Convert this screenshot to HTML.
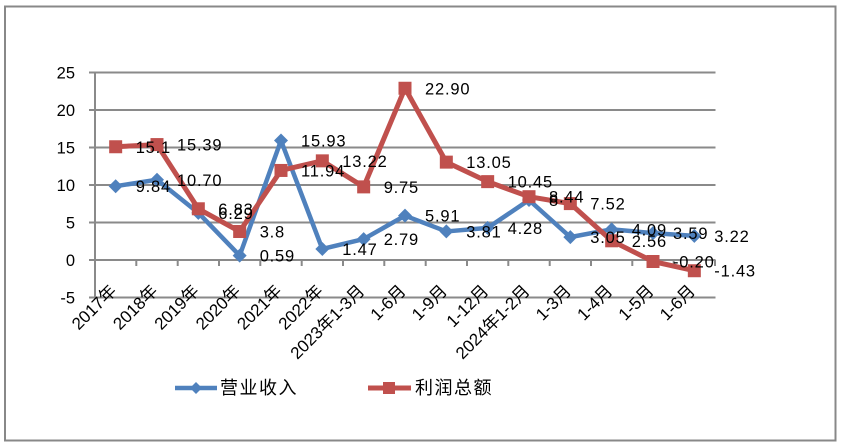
<!DOCTYPE html>
<html><head><meta charset="utf-8">
<style>
html,body{margin:0;padding:0;background:#fff;}
svg{display:block;}
text{font-family:"Liberation Sans","Noto Sans CJK SC",sans-serif;fill:#000;}
.dl{font-size:16.5px;letter-spacing:0.8px;}
.yl{font-size:16.5px;}
.xl{font-size:17px;}
.lg{font-size:18px;letter-spacing:1.5px;}
</style></head>
<body>
<svg width="844" height="448" viewBox="0 0 844 448" xmlns="http://www.w3.org/2000/svg">
<rect x="0" y="0" width="844" height="448" fill="#fff"/>
<rect x="5" y="6.5" width="830.5" height="434" fill="none" stroke="#888" stroke-width="2"/>
<!-- gridlines -->
<g stroke="#8a8a8a" stroke-width="2">
<line x1="89" y1="72.5" x2="715.5" y2="72.5"/>
<line x1="89" y1="110" x2="715.5" y2="110"/>
<line x1="89" y1="147.5" x2="715.5" y2="147.5"/>
<line x1="89" y1="185" x2="715.5" y2="185"/>
<line x1="89" y1="222.5" x2="715.5" y2="222.5"/>
<line x1="89" y1="260" x2="715.5" y2="260"/>
<line x1="89" y1="297.5" x2="715.5" y2="297.5"/>
<line x1="95" y1="72" x2="95" y2="298"/>
<!-- x ticks -->
<line x1="136.3" y1="260" x2="136.3" y2="266"/>
<line x1="177.7" y1="260" x2="177.7" y2="266"/>
<line x1="219" y1="260" x2="219" y2="266"/>
<line x1="260.3" y1="260" x2="260.3" y2="266"/>
<line x1="301.7" y1="260" x2="301.7" y2="266"/>
<line x1="343" y1="260" x2="343" y2="266"/>
<line x1="384.3" y1="260" x2="384.3" y2="266"/>
<line x1="425.7" y1="260" x2="425.7" y2="266"/>
<line x1="467" y1="260" x2="467" y2="266"/>
<line x1="508.3" y1="260" x2="508.3" y2="266"/>
<line x1="549.7" y1="260" x2="549.7" y2="266"/>
<line x1="591" y1="260" x2="591" y2="266"/>
<line x1="632.3" y1="260" x2="632.3" y2="266"/>
<line x1="673.7" y1="260" x2="673.7" y2="266"/>
<line x1="715" y1="260" x2="715" y2="266"/>
</g>
<!-- y labels -->
<g class="yl" text-anchor="end">
<text x="75" y="78.5">25</text>
<text x="75" y="116">20</text>
<text x="75" y="153.5">15</text>
<text x="75" y="191">10</text>
<text x="75" y="228.5">5</text>
<text x="75" y="266">0</text>
<text x="75" y="303.5">-5</text>
</g>
<!-- x labels -->
<g class="xl" text-anchor="end">
<text transform="translate(117.5,292) rotate(-45)">2017年</text>
<text transform="translate(158.8,292) rotate(-45)">2018年</text>
<text transform="translate(200.1,292) rotate(-45)">2019年</text>
<text transform="translate(241.5,292) rotate(-45)">2020年</text>
<text transform="translate(282.8,292) rotate(-45)">2021年</text>
<text transform="translate(324.1,292) rotate(-45)">2022年</text>
<text transform="translate(365.5,292) rotate(-45)">2023年1-3月</text>
<text transform="translate(406.8,292) rotate(-45)">1-6月</text>
<text transform="translate(448.1,292) rotate(-45)">1-9月</text>
<text transform="translate(489.5,292) rotate(-45)">1-12月</text>
<text transform="translate(530.8,292) rotate(-45)">2024年1-2月</text>
<text transform="translate(572.1,292) rotate(-45)">1-3月</text>
<text transform="translate(613.5,292) rotate(-45)">1-4月</text>
<text transform="translate(654.8,292) rotate(-45)">1-5月</text>
<text transform="translate(696.1,292) rotate(-45)">1-6月</text>
</g>
<!-- blue series -->
<polyline fill="none" stroke="#4F81BD" stroke-width="4.5" stroke-linejoin="round"
points="115.67,186.2 157,179.75 198.33,212.83 239.67,255.58 281,140.53 322.33,248.98 363.67,239.08 405,215.68 446.33,231.43 487.67,227.9 529,200 570.33,237.13 611.67,229.33 653,233.08 694.33,235.85"/>
<g fill="#4F81BD">
<polygon points="115.67,179.2 122.67,186.2 115.67,193.2 108.67,186.2"/>
<polygon points="157,172.75 164,179.75 157,186.75 150,179.75"/>
<polygon points="198.33,205.83 205.33,212.83 198.33,219.83 191.33,212.83"/>
<polygon points="239.67,248.58 246.67,255.58 239.67,262.58 232.67,255.58"/>
<polygon points="281,133.53 288,140.53 281,147.53 274,140.53"/>
<polygon points="322.33,241.98 329.33,248.98 322.33,255.98 315.33,248.98"/>
<polygon points="363.67,232.08 370.67,239.08 363.67,246.08 356.67,239.08"/>
<polygon points="405,208.68 412,215.68 405,222.68 398,215.68"/>
<polygon points="446.33,224.43 453.33,231.43 446.33,238.43 439.33,231.43"/>
<polygon points="487.67,220.9 494.67,227.9 487.67,234.9 480.67,227.9"/>
<polygon points="529,193 536,200 529,207 522,200"/>
<polygon points="570.33,230.13 577.33,237.13 570.33,244.13 563.33,237.13"/>
<polygon points="611.67,222.33 618.67,229.33 611.67,236.33 604.67,229.33"/>
<polygon points="653,226.08 660,233.08 653,240.08 646,233.08"/>
<polygon points="694.33,228.85 701.33,235.85 694.33,242.85 687.33,235.85"/>
</g>
<!-- red series -->
<polyline fill="none" stroke="#C0504D" stroke-width="5" stroke-linejoin="round"
points="115.67,146.75 157,144.58 198.33,208.78 239.67,231.5 281,170.45 322.33,160.85 363.67,186.88 405,88.25 446.33,162.13 487.67,181.63 529,196.7 570.33,203.6 611.67,240.8 653,261.5 694.33,270.73"/>
<g fill="#C0504D">
<rect x="109.17" y="140.25" width="13" height="13"/>
<rect x="150.5" y="138.08" width="13" height="13"/>
<rect x="191.83" y="202.28" width="13" height="13"/>
<rect x="233.17" y="225" width="13" height="13"/>
<rect x="274.5" y="163.95" width="13" height="13"/>
<rect x="315.83" y="154.35" width="13" height="13"/>
<rect x="357.17" y="180.38" width="13" height="13"/>
<rect x="398.5" y="81.75" width="13" height="13"/>
<rect x="439.83" y="155.63" width="13" height="13"/>
<rect x="481.17" y="175.13" width="13" height="13"/>
<rect x="522.5" y="190.2" width="13" height="13"/>
<rect x="563.83" y="197.1" width="13" height="13"/>
<rect x="605.17" y="234.3" width="13" height="13"/>
<rect x="646.5" y="255" width="13" height="13"/>
<rect x="687.83" y="264.23" width="13" height="13"/>
</g>
<!-- blue labels -->
<g class="dl">
<text x="135.7" y="192.2">9.84</text>
<text x="177" y="185.8">10.70</text>
<text x="218.3" y="218.8">6.29</text>
<text x="259.7" y="261.6">0.59</text>
<text x="301" y="146.5">15.93</text>
<text x="342.3" y="255">1.47</text>
<text x="383.7" y="245.1">2.79</text>
<text x="425" y="221.7">5.91</text>
<text x="466.3" y="237.4">3.81</text>
<text x="507.7" y="233.9">4.28</text>
<text x="549" y="206">8</text>
<text x="590.3" y="243.1">3.05</text>
<text x="631.7" y="235.3">4.09</text>
<text x="673" y="239.1">3.59</text>
<text x="714.3" y="241.9">3.22</text>
</g>
<!-- red labels -->
<g class="dl">
<text x="135.7" y="152.8">15.1</text>
<text x="177" y="150.6">15.39</text>
<text x="218.3" y="214.8">6.83</text>
<text x="259.7" y="237.5">3.8</text>
<text x="301" y="176.5">11.94</text>
<text x="342.3" y="166.9">13.22</text>
<text x="383.7" y="192.9">9.75</text>
<text x="425" y="94.3">22.90</text>
<text x="466.3" y="168.1">13.05</text>
<text x="507.7" y="187.6">10.45</text>
<text x="549" y="202.7">8.44</text>
<text x="590.3" y="209.6">7.52</text>
<text x="631.7" y="246.8">2.56</text>
<text x="673" y="267.5">-0.20</text>
<text x="714.3" y="276.7">-1.43</text>
</g>
<!-- legend -->
<line x1="175" y1="388" x2="217" y2="388" stroke="#4F81BD" stroke-width="4.5"/>
<polygon points="196,382 202,388 196,394 190,388" fill="#4F81BD"/>
<text class="lg" x="220" y="394">营业收入</text>
<line x1="368" y1="388" x2="411" y2="388" stroke="#C0504D" stroke-width="5"/>
<rect x="383" y="382" width="12" height="12" fill="#C0504D"/>
<text class="lg" x="415" y="394">利润总额</text>
</svg>
</body></html>
